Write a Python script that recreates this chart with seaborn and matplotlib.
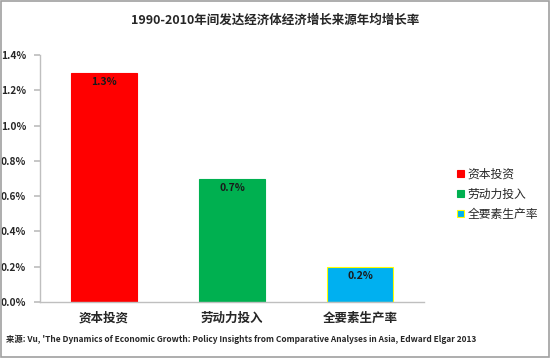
import matplotlib
matplotlib.use("Agg")
import matplotlib.pyplot as plt
import seaborn as sns
import pandas as pd
from matplotlib.patches import Patch, Rectangle
from matplotlib.ticker import FuncFormatter, MultipleLocator

categories = ["资本投资", "劳动力投入", "全要素生产率"]
values = [1.3, 0.7, 0.2]
labels = ["1.3%", "0.7%", "0.2%"]
colors = ["#FF0000", "#00B050", "#00B0F0"]
edges = ["#FF0000", "#00B050", "#FFFF00"]
title = "1990-2010年间发达经济体经济增长来源年均增长率"
source = "来源: Vu, 'The Dynamics of Economic Growth: Policy Insights from Comparative Analyses in Asia, Edward Elgar 2013"

sns.set_theme(style="white")
plt.rcParams['font.family'] = ['Noto Sans CJK SC', 'DejaVu Sans']

df = pd.DataFrame({"cat": categories, "val": values})

fig = plt.figure(figsize=(5.5, 3.58), dpi=100)
ax = fig.add_axes([40/550, 56/358, 384/550, 247/358])
sns.barplot(data=df, x="cat", y="val", hue="cat", palette=colors, width=0.515,
            legend=False, ax=ax, saturation=1)
for p, ec in zip(ax.patches, edges):
    p.set_edgecolor(ec)
    p.set_linewidth(0.8)

ax.set_ylim(0, 1.4)
ax.set_xlim(-0.5, 2.5)
ax.yaxis.set_major_locator(MultipleLocator(0.2))
ax.yaxis.set_major_formatter(FuncFormatter(lambda v, _: f"{v:.1f}%"))
ax.set_xlabel("")
ax.set_ylabel("")
for s in ["top", "right"]:
    ax.spines[s].set_visible(False)
for s in ["left", "bottom"]:
    ax.spines[s].set_color("#BFBFBF")
    ax.spines[s].set_linewidth(1)
ax.tick_params(axis="y", which="major", left=True, length=4, color="#BFBFBF",
               labelsize=7.3, pad=6)
ax.tick_params(axis="x", length=0, labelsize=9, pad=7)
for t in ax.get_yticklabels() + ax.get_xticklabels():
    t.set_fontweight("bold")

for i, (v, lab) in enumerate(zip(values, labels)):
    ax.text(i, v - 0.025, lab, ha="center", va="top", fontsize=7.5,
            fontweight="bold", color="#1a1a1a")

handles = [Patch(facecolor=c, edgecolor=e, linewidth=0.8) for c, e in zip(colors, edges)]
leg = fig.legend(handles, categories, loc="upper left", bbox_to_anchor=(452/550, 1 - 163/358),
                 frameon=False, fontsize=8.5, handlelength=0.6, handleheight=0.6,
                 handletextpad=0.3, labelspacing=0.6, borderaxespad=0)

fig.text(0.5, 1 - 20/358, title, ha="center", va="center", fontsize=9.0, fontweight="bold")
fig.text(6/550, 1 - 339/358, source, ha="left", va="center", fontsize=6.0, fontweight="bold")

fig.patches.append(Rectangle((0.001, 0.002), 0.997, 0.995, transform=fig.transFigure,
                             fill=False, edgecolor="#A0A0A0", linewidth=1.2))

fig.savefig("out.png", dpi=100)
